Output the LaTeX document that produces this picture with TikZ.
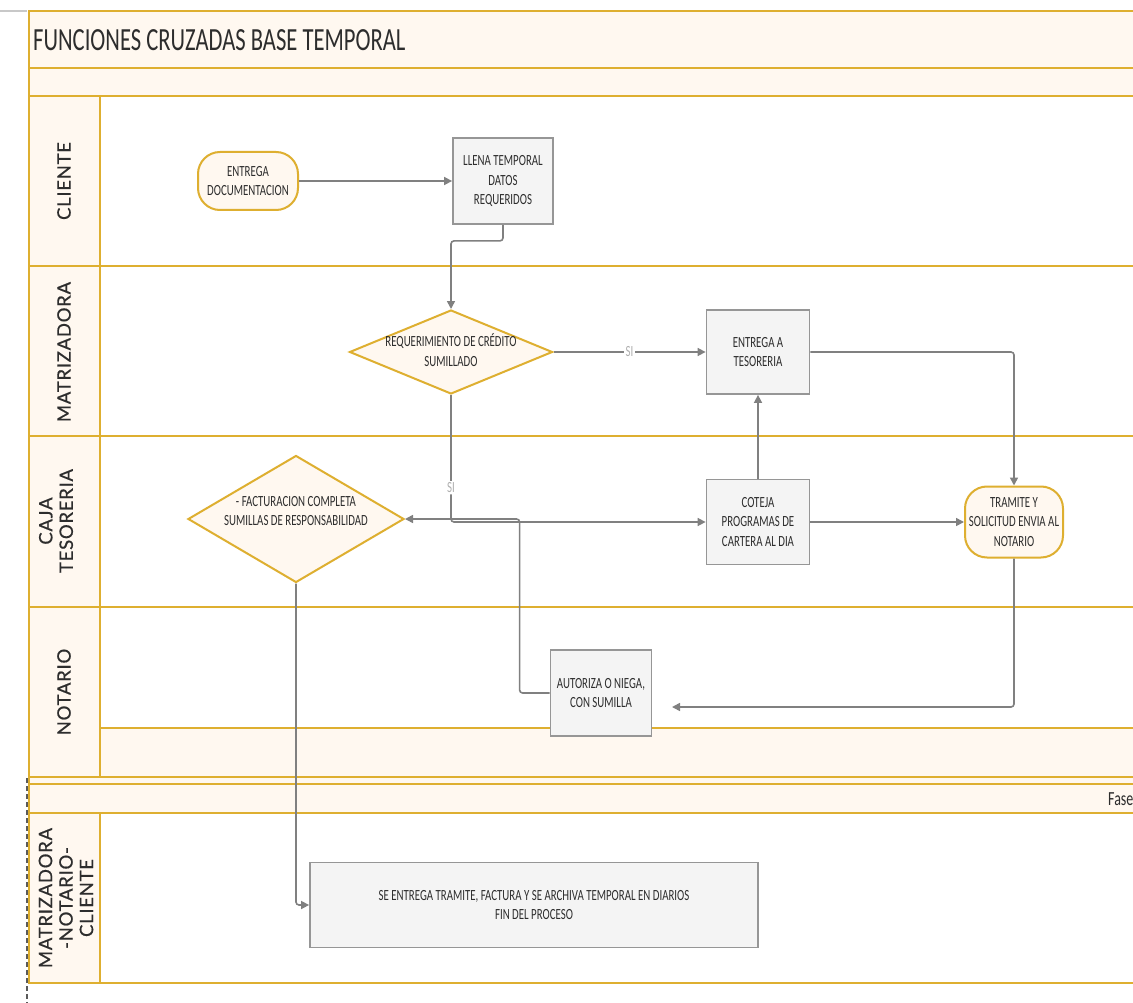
\documentclass[tikz,border=0pt]{standalone}
\usepackage{fontspec}
\usetikzlibrary{shapes.geometric,arrows.meta}
\newfontfamily\cf[FakeStretch=0.7]{Carlito}
\newfontfamily\lf[LetterSpace=4,FakeBold=0.6]{Lato}
\newcommand\nodefont{\cf\fontsize{15.5}{19.5}\selectfont}
\newcommand\titlefont{\cf\fontsize{32.3}{36}\selectfont}
\newcommand\fasefont{\cf\fontsize{20}{24}\selectfont}
\newcommand\lanefont{\lf\fontsize{18.5}{20.5}\selectfont}
\definecolor{gold}{RGB}{222,175,48}
\definecolor{cream}{RGB}{255,248,240}
\definecolor{boxfill}{RGB}{244,244,244}
\definecolor{boxgray}{RGB}{150,150,150}
\definecolor{linegray}{RGB}{128,128,128}
\definecolor{txt}{RGB}{45,45,45}
\definecolor{sigray}{RGB}{175,175,175}
\begin{document}
\begin{tikzpicture}[x=1pt,y=-1pt,
  goldline/.style={draw=gold,line width=2.5pt},
  stepbox/.style={draw=boxgray,fill=boxfill,line width=1.8pt,inner sep=0pt,align=center,font=\nodefont,text=txt},
  term/.style={draw=gold,fill=cream,line width=2pt,rounded corners=22pt,inner sep=0pt,align=center,font=\nodefont,text=txt},
  dia/.style={diamond,draw=gold,fill=cream,line width=2pt,inner sep=0pt},
  ntext/.style={inner sep=0pt,align=center,font=\nodefont,text=txt},
  lane/.style={rotate=90,inner sep=0pt,align=center,font=\lanefont,text=txt},
  conn/.style={draw=linegray,line width=1.6pt,rounded corners=3pt,-{Triangle[length=8pt,width=8pt]}},
  si/.style={fill=white,inner sep=1.5pt,font=\nodefont,text=sigray}]
\useasboundingbox (0,0) rectangle (1133,1003);
\clip (0,0) rectangle (1133,1003);
\fill[white] (0,0) rectangle (1133,1003);
% fills
\fill[cream] (28,11) rectangle (1140,96);
\fill[cream] (28,96) rectangle (100,777);
\fill[cream] (100,728) rectangle (1140,777);
\fill[cream] (28,777) rectangle (1140,813);
\fill[cream] (28,813) rectangle (100,983);
% grid
\foreach \yy in {11,68,96,266,436,607,777,784,813,983}
  \draw[goldline] (28,\yy) -- (1140,\yy);
\draw[goldline] (100,728) -- (1140,728);
\draw[goldline] (29,11) -- (29,983);
\draw[goldline] (100,96) -- (100,777);
\draw[goldline] (100,813) -- (100,983);
\draw[draw={rgb,255:red,200;green,200;blue,200},line width=1.5pt] (0,11) -- (27,11);
\draw[draw={rgb,255:red,90;green,90;blue,90},line width=1.2pt,dash pattern=on 5pt off 3pt] (27,778) -- (27,1003);
% titles
\node[anchor=west,inner sep=0pt,font=\titlefont,text=txt] (title) at (33,40) {FUNCIONES CRUZADAS BASE TEMPORAL};
\node[anchor=west,inner sep=0pt,font=\fasefont,text=txt] (fase) at (1108,799) {Fase};
% lane labels
\node[lane] (lcli) at (64,181) {CLIENTE};
\node[lane] (lmat) at (64,352) {MATRIZADORA};
\node[lane] (lcaj) at (56,521) {CAJA\\TESORERIA};
\node[lane] (lnot) at (64,692) {NOTARIO};
\node[lane] (lfin) at (66,898) {MATRIZADORA\\-NOTARIO-\\CLIENTE};
% nodes
\node[term,minimum width=100pt,minimum height=58pt] (e1) at (248,181) {ENTREGA\\DOCUMENTACION};
\node[stepbox,minimum width=100pt,minimum height=86pt] (l1) at (503,181) {LLENA TEMPORAL\\DATOS\\REQUERIDOS};
\node[dia,minimum width=203pt,minimum height=84pt] (d1) at (451,352) {};
\node[ntext] (d1t) at (451,350) {REQUERIMIENTO DE CRÉDITO\\SUMILLADO};
\node[stepbox,minimum width=103pt,minimum height=84pt] (t1) at (758,352) {ENTREGA A\\TESORERIA};
\node[stepbox,minimum width=103pt,minimum height=85pt] (c1) at (758,522) {COTEJA\\PROGRAMAS DE\\CARTERA AL DIA};
\node[term,minimum width=98pt,minimum height=71pt] (tr) at (1014,522) {TRAMITE Y\\SOLICITUD ENVIA AL\\NOTARIO};
\node[dia,minimum width=216pt,minimum height=127pt] (d2) at (296,519) {};
\node[ntext] (d2t) at (296,511) {- FACTURACION COMPLETA\\SUMILLAS DE RESPONSABILIDAD};
\node[stepbox,minimum width=101pt,minimum height=86pt] (a1) at (601,693) {AUTORIZA O NIEGA,\\CON SUMILLA};
\node[stepbox,minimum width=448pt,minimum height=85pt] (f1) at (534,905) {SE ENTREGA TRAMITE, FACTURA Y SE ARCHIVA TEMPORAL EN DIARIOS\\FIN DEL PROCESO};
\coordinate (a1in) at (672,707);
% connectors
\draw[conn] (e1.east) -- (l1.west);
\draw[conn] (l1.south) -- ++(0,16) -| (d1.north);
\draw[conn] (d1.east) -- node[si]{SI} (t1.west);
\draw[conn] (t1.east) -| (tr.north);
\draw[conn] (c1.north) -- (t1.south);
\draw[conn] (c1.east) -- (tr.west);
\draw[conn] (d1.south) -- node[si,pos=0.73]{SI} (d1.south |- c1.west) -- (c1.west);
\draw[conn] (a1.west) -- ++(-30,0) |- (d2.east);
\draw[conn] (tr.south) |- (a1in);
\draw[conn] (d2.south) |- (f1.west);
\end{tikzpicture}
\end{document}
